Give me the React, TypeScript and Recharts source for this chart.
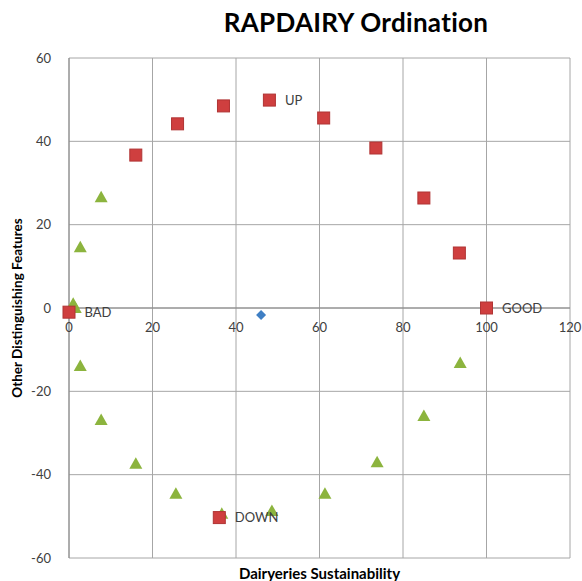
import React from 'react';
import {
  ScatterChart,
  Scatter,
  XAxis,
  YAxis,
  CartesianGrid,
  ReferenceLine,
  LabelList,
} from 'recharts';

// circle of sample points on the ordination
const upperX = [0, 16, 26, 37, 48, 61, 73.5, 85, 93.5, 100, 36];
const upperY = [-1, 36.7, 44.2, 48.5, 49.9, 45.6, 38.4, 26.4, 13.2, 0, -50.3];
const upperNames = ['BAD', '', '', '', 'UP', '', '', '', '', 'GOOD', 'DOWN'];

const lowerX = [1, 1.5, 2.7, 7.7, 2.7, 7.7, 16, 25.6, 36.6, 48.6, 61.3, 73.8, 85, 93.7];
const lowerY = [1, 0, 14.6, 26.6, -13.9, -26.9, -37.4, -44.6, -49.4, -48.7, -44.6, -37, -25.9, -13.2];

const dairyX = [46];
const dairyY = [-1.7];

const xTicks = [0, 20, 40, 60, 80, 100, 120];
const yTicks = [-60, -40, -20, 0, 20, 40, 60];

const upperData = upperX.map((x, i) => ({ x, y: upperY[i], name: upperNames[i] }));
const lowerData = lowerX.map((x, i) => ({ x, y: lowerY[i] }));
const dairyData = dairyX.map((x, i) => ({ x, y: dairyY[i] }));

const W = 582;
const H = 581;
const M = { top: 58, right: 12, bottom: 0, left: 0 };
const PLOT_H = 500;
const ZERO_Y = M.top + PLOT_H / 2;

const FONT = 'Lato, "Open Sans", sans-serif';
const TXT = '#404040';

const Square = (props: any) => {
  const { cx, cy } = props;
  return <rect x={cx - 6} y={cy - 6} width={12} height={12} fill="#cf3f3f" stroke="#b03434" strokeWidth={1} />;
};

const Triangle = (props: any) => {
  const { cx, cy } = props;
  return <polygon points={`${cx},${cy - 6.5} ${cx + 6.5},${cy + 5} ${cx - 6.5},${cy + 5}`} fill="#8cb43e" />;
};

const Diamond = (props: any) => {
  const { cx, cy } = props;
  return <polygon points={`${cx},${cy - 5} ${cx + 5},${cy} ${cx},${cy + 5} ${cx - 5},${cy}`} fill="#3f7fc4" />;
};

// x tick labels sit just under the zero line, Excel-style
const XTick = (props: any) => {
  const { x, payload } = props;
  return (
    <text x={x} y={ZERO_Y + 24} textAnchor="middle" fill={TXT} fontSize={13} fontFamily={FONT}>
      {payload.value}
    </text>
  );
};

export default function App() {
  return (
    <div style={{ position: 'relative', width: W, height: H, background: '#fff' }}>
      <style>{'body{margin:0}'}</style>
      <div
        style={{
          position: 'absolute',
          top: 6,
          left: 206,
          width: 300,
          textAlign: 'center',
          fontFamily: FONT,
          fontWeight: 700,
          fontSize: 26,
          letterSpacing: 0.3,
          color: '#000',
        }}
      >
        RAPDAIRY Ordination
      </div>
      <ScatterChart width={W} height={H} margin={M}>
        <CartesianGrid stroke="#a6a6a6" strokeWidth={1} />
        <XAxis
          type="number"
          dataKey="x"
          domain={[0, 120]}
          ticks={xTicks}
          axisLine={false}
          tickLine={false}
          tick={<XTick />}
          height={23}
          label={{
            value: 'Dairyeries Sustainability',
            position: 'insideBottom',
            offset: 2,
            fill: '#000',
            fontSize: 15,
            fontWeight: 700,
            fontFamily: FONT,
          }}
        />
        <YAxis
          type="number"
          dataKey="y"
          domain={[-60, 60]}
          ticks={yTicks}
          width={69}
          axisLine={{ stroke: '#868686' }}
          tickLine={false}
          tickMargin={12}
          tick={{ fill: TXT, fontSize: 13, fontFamily: FONT }}
          label={{
            value: 'Other Distinguishing Features',
            angle: -90,
            position: 'insideLeft',
            offset: 17,
            fill: '#000',
            fontSize: 13.5,
            fontWeight: 700,
            fontFamily: FONT,
            style: { textAnchor: 'middle' },
          }}
        />
        <ReferenceLine y={0} stroke="#868686" />
        <Scatter data={lowerData} shape={<Triangle />} isAnimationActive={false} />
        <Scatter data={upperData} shape={<Square />} isAnimationActive={false}>
          <LabelList
            dataKey="name"
            position="right"
            offset={11}
            fill={TXT}
            fontSize={13}
            fontFamily={FONT}
          />
        </Scatter>
        <Scatter data={dairyData} shape={<Diamond />} isAnimationActive={false} />
      </ScatterChart>
    </div>
  );
}
